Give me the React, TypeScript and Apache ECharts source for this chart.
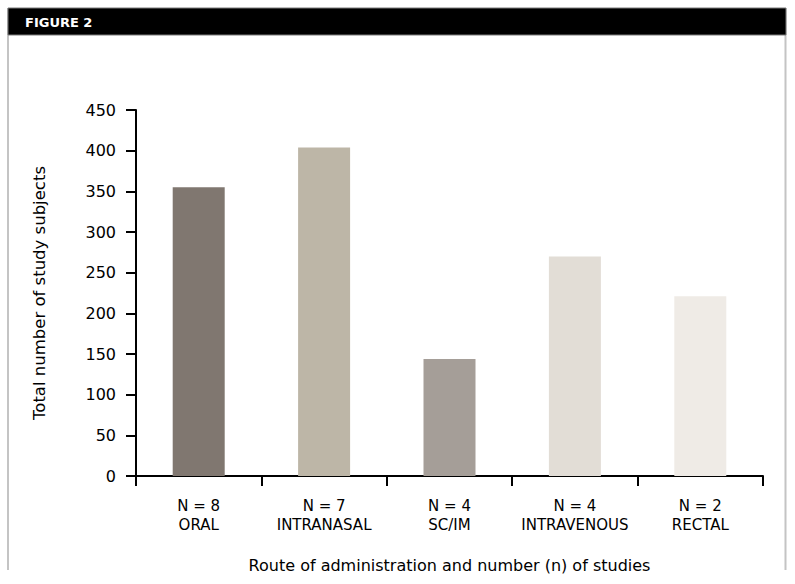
import React, { useEffect, useRef } from "react";
import * as echarts from "echarts";

const categories = ["N = 8\nORAL", "N = 7\nINTRANASAL", "N = 4\nSC/IM", "N = 4\nINTRAVENOUS", "N = 2\nRECTAL"];
const subjects = [355, 404, 144, 270, 221];
const barColors = ["#807770", "#bdb6a7", "#a59e98", "#e2ddd6", "#efebe6"];
const yTitle = "Total number of study subjects";
const xTitle = "Route of administration and number (n) of studies";
const figureLabel = "FIGURE 2";

const FONT = "'DejaVu Sans', sans-serif";

export default function App() {
  const ref = useRef<HTMLDivElement>(null);
  useEffect(() => {
    if (!ref.current) return;
    const chart = echarts.init(ref.current, undefined, { renderer: "svg" });
    chart.setOption({
      animation: false,
      backgroundColor: "#ffffff",
      textStyle: { fontFamily: FONT },
      graphic: [
        { type: "line", shape: { x1: 8, y1: 8, x2: 8, y2: 570 }, style: { stroke: "#c4c4c4", lineWidth: 2 } },
        { type: "line", shape: { x1: 785.5, y1: 8, x2: 785.5, y2: 570 }, style: { stroke: "#c4c4c4", lineWidth: 2 } },
        { type: "rect", shape: { x: 8, y: 8, width: 778, height: 27 }, style: { fill: "#000000", stroke: "#7a7a7a", lineWidth: 1 } },
        { type: "text", x: 25, y: 22, style: { text: figureLabel, fill: "#ffffff", font: `bold 13px ${FONT}`, verticalAlign: "middle" } },
      ],
      grid: { left: 136, right: 32, top: 110, bottom: 108 },
      xAxis: {
        type: "category",
        data: categories,
        axisLine: { lineStyle: { color: "#000", width: 2 } },
        axisTick: { show: true, length: 10, lineStyle: { color: "#000", width: 2 } },
        axisLabel: { color: "#000", fontSize: 15, lineHeight: 19, margin: 20, fontFamily: FONT, interval: 0 },
        name: xTitle,
        nameLocation: "middle",
        nameGap: 81,
        nameTextStyle: { color: "#000", fontSize: 16, fontFamily: FONT },
      },
      yAxis: {
        type: "value",
        min: 0,
        max: 450,
        interval: 50,
        splitLine: { show: false },
        axisLine: { show: true, lineStyle: { color: "#000", width: 2 } },
        axisTick: { show: true, length: 10, lineStyle: { color: "#000", width: 2 } },
        axisLabel: { color: "#000", fontSize: 16, margin: 20, fontFamily: FONT },
        name: yTitle,
        nameLocation: "middle",
        nameGap: 88,
        nameTextStyle: { color: "#000", fontSize: 16.5, fontFamily: FONT },
      },
      series: [
        {
          type: "bar",
          barWidth: 52,
          data: subjects.map((v, i) => ({ value: v, itemStyle: { color: barColors[i] } })),
        },
      ],
    });
    return () => chart.dispose();
  }, []);
  return <div ref={ref} style={{ position: "absolute", left: 0, top: 0, width: 795, height: 584 }} />;
}
